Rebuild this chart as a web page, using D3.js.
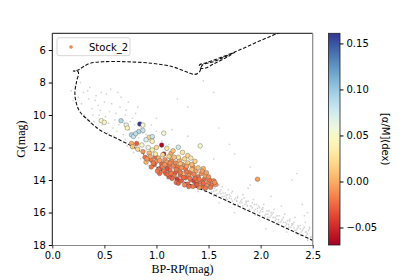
<!DOCTYPE html>
<html lang="en">
<head>
  <meta charset="UTF-8">
  <title>Stock_2 CMD</title>
  <style>
  body { margin: 0; background: #fff; }
  .tick text { font: 10px "DejaVu Sans", sans-serif; fill: #000; }
  </style>
</head>
<body>
<script src="https://d3js.org/d3.v7.min.js"></script>
<script>
// isochrone (BP-RP, G), from faint end up to the loop
var isoBP = [2.55, 2.492, 2.306, 2.052, 1.732, 1.541, 1.349, 1.158, 0.999, 0.871, 0.772, 0.648, 0.456, 0.361, 0.265, 0.227, 0.217, 0.233, 0.249, 0.201, 0.249, 0.297, 0.361, 0.485, 0.712, 0.964, 1.155, 1.286, 1.366, 1.413, 1.442, 1.538, 1.653, 1.758, 1.662, 1.547, 1.471, 1.423, 1.413, 1.471, 1.605, 1.796, 1.988, 2.179, 2.37];
var isoG  = [17.86, 17.69, 17.14, 16.39, 15.45, 14.88, 14.35, 13.80, 13.18, 12.36, 11.95, 11.54, 10.92, 10.41, 9.80, 9.18, 8.57, 7.95, 7.34, 7.29, 7.23, 7.03, 6.82, 6.72, 6.72, 6.82, 7.03, 7.34, 7.50, 7.34, 6.92, 6.74, 6.43, 6.12, 6.49, 6.86, 7.11, 7.11, 6.92, 6.80, 6.49, 6.00, 5.45, 4.95, 4.58];

// field stars (grey)
var bgBP = [0.30, 0.35, 0.42, 0.50, 0.38, 0.45, 0.55, 0.60, 0.28, 0.33, 0.52, 0.65, 0.70, 0.48, 0.58, 0.40, 0.75, 0.80, 0.62, 0.68, 0.85, 0.90, 0.44, 0.36, 0.56, 0.73, 0.95, 1.00, 0.25, 0.31, 0.66, 0.53,
  1.45, 1.55, 1.20, 1.70, 2.35, 1.75,
  0.70, 0.80, 0.88, 0.95, 1.05, 1.12, 1.20, 1.28, 1.35, 1.45, 1.50, 1.55, 1.60, 1.62, 1.65, 1.68, 1.70, 1.72, 1.75, 1.78, 1.80, 1.82, 1.85, 1.88, 1.90, 1.92, 1.95, 1.98, 2.00, 2.02, 2.05, 2.08, 2.10, 2.12, 2.15, 2.18, 2.20, 2.22, 2.25, 2.28, 2.30, 2.32, 2.35, 2.38, 2.40, 2.42, 2.45, 2.47, 2.48, 2.46, 2.40, 2.33, 2.27, 2.17, 2.07, 1.97, 1.87, 1.77, 1.67, 1.57, 1.63, 1.73, 1.83, 1.93, 2.03, 2.13, 2.23, 2.33, 2.43, 1.52, 1.88, 2.20, 1.40, 1.30, 1.20, 1.10, 1.00, 0.92, 0.85, 0.78, 0.72, 2.42, 2.25, 1.60, 1.75, 2.05,
  2.44, 2.38, 2.30, 2.24, 2.16, 2.10, 2.02, 1.94, 1.86, 1.78, 1.70, 1.64, 1.58, 2.49, 2.36, 2.28, 2.14, 1.99, 1.84, 1.69,
  1.41, 1.43, 1.46, 1.48, 1.51, 1.53, 1.56, 1.58, 1.61, 1.63, 1.66, 1.68, 1.71, 1.73, 1.76, 1.78, 1.81, 1.83, 1.86, 1.89, 1.91, 1.94, 1.96, 1.99, 2.01, 2.04, 2.06, 2.09, 2.11, 2.14, 2.16, 2.19, 2.21, 2.24, 2.26, 2.29, 2.31, 2.34, 2.36, 2.39, 2.41, 2.44, 2.46, 2.49, 2.47, 2.43, 2.37, 2.32, 2.27, 2.22, 2.17, 2.12, 2.07, 2.02, 1.97, 1.92, 1.87, 1.82, 1.77, 1.72, 1.67, 1.62, 1.57, 1.52, 1.47, 1.42, 1.37, 1.34, 1.31,
  1.55, 1.75, 1.95, 2.15, 2.35, 2.45, 1.85, 2.25,
  1.05, 1.15, 1.25, 1.35, 1.00, 1.10, 1.20, 1.30, 0.90, 1.45, 1.55, 1.60,
  0.18, 0.22, 0.20, 0.27, 0.34, 0.41, 0.47, 0.39, 0.46, 0.51, 0.57, 0.61, 0.64, 0.69, 0.74, 0.79, 0.83, 0.87, 0.59, 0.54, 0.43, 0.37, 0.71, 0.77, 0.93, 0.98, 1.05, 1.12, 0.63, 0.82, 1.00, 1.15, 1.30, 1.60, 1.30,
  2.30, 1.90, 2.40, 1.55, 1.90, 2.10, 2.45];
var bgG  = [8.6, 9.0, 8.8, 9.2, 9.6, 10.0, 9.8, 10.3, 9.3, 10.2, 8.7, 9.5, 10.0, 10.6, 10.8, 10.4, 10.4, 9.9, 11.0, 11.2, 10.8, 11.2, 9.4, 8.3, 8.4, 9.2, 10.6, 11.0, 8.9, 10.0, 8.9, 11.1,
  7.9, 8.6, 9.0, 11.8, 13.6, 12.4,
  11.5, 11.9, 12.3, 12.9, 13.3, 13.5, 13.8, 14.0, 14.2, 14.6, 14.5, 14.7, 14.8, 14.6, 15.0, 14.9, 15.1, 14.8, 15.2, 15.0, 15.4, 15.2, 15.5, 15.3, 15.6, 15.4, 15.8, 15.6, 15.9, 15.7, 16.1, 15.9, 16.2, 16.0, 16.4, 16.2, 16.5, 16.3, 16.7, 16.5, 16.8, 16.6, 17.0, 16.8, 17.1, 16.9, 17.3, 17.0, 17.5, 17.6, 17.4, 17.1, 16.9, 16.6, 16.3, 15.9, 15.6, 15.3, 15.1, 14.9, 14.4, 14.7, 14.9, 15.2, 15.5, 15.8, 16.1, 16.3, 16.6, 13.9, 14.5, 15.6, 14.7, 14.5, 14.2, 13.9, 13.5, 13.1, 12.7, 12.3, 11.9, 16.2, 17.2, 15.4, 16.0, 17.0,
  17.2, 17.0, 16.7, 16.6, 16.2, 16.0, 15.8, 15.5, 15.3, 15.1, 14.9, 14.8, 14.6, 17.7, 16.9, 16.4, 16.3, 15.7, 15.1, 14.6,
  14.2, 14.45, 14.1, 14.6, 14.4, 14.75, 14.5, 14.85, 14.7, 15.0, 14.8, 15.2, 15.0, 15.3, 15.1, 15.5, 15.3, 15.6, 15.4, 15.8, 15.6, 15.9, 15.5, 16.0, 15.8, 16.2, 15.9, 16.3, 16.1, 16.5, 16.2, 16.6, 16.4, 16.8, 16.5, 16.9, 16.7, 17.1, 16.8, 17.2, 17.0, 17.4, 17.1, 17.5, 16.9, 17.2, 17.3, 16.95, 16.75, 16.6, 16.45, 16.3, 16.1, 15.95, 15.75, 15.7, 15.55, 15.4, 15.25, 15.15, 14.95, 14.85, 14.65, 14.55, 14.35, 14.3, 14.1, 14.35, 14.2,
  15.0, 15.55, 16.15, 16.7, 17.3, 17.7, 15.85, 17.0,
  12.9, 13.2, 13.5, 13.8, 12.6, 13.0, 13.3, 13.6, 12.2, 13.9, 14.2, 14.3,
  8.5, 8.2, 9.1, 8.0, 8.5, 9.1, 8.6, 10.0, 9.7, 10.1, 9.3, 9.9, 10.6, 10.5, 10.9, 10.6, 11.4, 11.1, 11.3, 10.5, 10.8, 10.5, 9.7, 10.2, 11.6, 11.4, 11.6, 11.8, 8.6, 9.5, 10.2, 10.9, 9.5, 10.8, 11.3,
  14.0, 13.2, 15.5, 12.7, 14.3, 15.0, 16.0];

// Stock_2 members
var starBP = [0.47, 0.50, 0.66, 0.71, 0.72, 0.84, 0.87, 0.83, 0.87, 0.76, 0.78, 0.80, 1.07, 0.93, 0.96, 0.90, 0.96, 1.05, 0.76, 0.81, 0.86, 1.21, 1.42, 1.07, 1.14, 0.87, 0.96, 0.89, 0.99, 1.00, 1.10, 1.16, 0.92, 0.82, 1.25, 1.30, 0.77,
  0.95, 1.00, 1.02, 1.05, 1.08, 1.10, 1.12, 1.04, 1.15, 1.18, 1.20, 1.22, 1.13, 1.25, 1.28, 1.18, 1.30, 1.32, 1.35, 1.23, 1.38, 1.40, 1.28, 1.33, 1.43, 1.46, 1.50, 1.38, 1.48, 1.53, 1.57, 1.44, 1.36, 1.22, 1.26, 1.10, 1.16, 1.07, 1.31, 1.42, 1.34, 1.20, 1.47, 1.51, 1.40, 1.27, 1.12, 0.98, 1.02, 1.24, 1.17, 1.30, 1.35, 1.45, 1.37, 1.33, 1.21, 1.06, 0.93, 1.15, 1.09, 1.97, 1.55, 1.41, 1.29, 1.14, 0.99, 1.23, 1.48,
  1.03, 0.95, 1.12, 0.90, 1.19, 1.27, 1.39,
  1.01, 1.06, 1.11, 1.19, 1.24, 1.29, 1.36, 1.41, 1.45, 1.52, 1.56, 1.39, 1.32, 1.26, 1.14, 1.08, 0.97, 0.94, 1.17, 1.34, 1.44, 1.50, 1.21, 1.31, 1.47, 1.03, 1.13, 1.23, 1.37, 0.91];
var starG  = [10.35, 10.45, 10.35, 10.62, 10.80, 10.55, 10.62, 11.02, 10.95, 11.22, 11.32, 11.15, 11.12, 11.37, 11.33, 11.52, 11.62, 11.85, 11.75, 11.75, 11.85, 11.98, 11.90, 12.40, 12.35, 12.25, 12.15, 12.60, 12.58, 12.00, 12.05, 12.20, 12.00, 12.10, 12.30, 12.50, 11.95,
  12.75, 12.85, 12.65, 13.00, 12.75, 12.90, 13.10, 13.25, 12.70, 12.95, 13.20, 12.80, 13.40, 13.05, 13.30, 13.55, 12.95, 13.55, 13.20, 13.70, 13.45, 13.80, 13.85, 14.00, 13.60, 13.95, 14.15, 14.20, 14.35, 14.30, 14.28, 14.40, 14.05, 13.45, 13.60, 13.30, 13.15, 13.45, 13.70, 14.10, 13.35, 13.95, 13.75, 14.00, 13.25, 12.70, 12.55, 13.05, 13.35, 14.05, 13.75, 14.25, 14.40, 13.30, 12.85, 12.65, 12.60, 12.45, 12.35, 13.90, 13.60, 13.95, 14.05, 14.45, 13.15, 12.85, 12.40, 13.00, 13.55,
  13.60, 13.20, 13.80, 12.90, 14.15, 14.30, 14.00,
  13.45, 13.15, 13.65, 13.35, 13.25, 13.50, 13.65, 13.95, 14.20, 14.45, 14.15, 14.30, 13.90, 13.85, 13.60, 13.05, 12.95, 12.55, 12.60, 13.05, 13.45, 13.80, 14.20, 14.40, 14.50, 12.80, 12.95, 13.55, 13.90, 12.70];
var starAlpha = [0.05, 0.045, 0.09, 0.06, 0.04, 0.16, 0.05, 0.09, 0.08, 0.09, 0.08, 0.085, 0.055, 0.02, 0.08, 0.07, 0.04, -0.065, 0.0, -0.03, 0.05, 0.075, 0.05, -0.06, 0.0, -0.01, 0.035, -0.02, -0.025, 0.02, 0.03, 0.01, 0.06, 0.02, 0.03, 0.02, 0.01,
  -0.018, -0.01, 0.005, -0.025, -0.01, -0.002, -0.02, -0.03, 0.012, -0.015, -0.02, 0.0, -0.022, -0.01, -0.02, -0.03, 0.015, -0.02, -0.01, -0.025, -0.002, -0.02, -0.03, -0.018, -0.01, -0.025, -0.015, -0.03, -0.01, -0.02, -0.01, -0.025, -0.04, -0.01, 0.005, -0.035, -0.015, -0.02, -0.015, -0.02, 0.008, -0.045, -0.005, -0.02, 0.012, 0.02, 0.015, -0.03, -0.02, -0.03, -0.02, -0.025, -0.02, 0.005, 0.02, 0.03, 0.025, 0.02, 0.005, -0.025, -0.03, -0.005, -0.015, -0.01, -0.005, -0.01, 0.03, 0.008, -0.005,
  -0.025, -0.02, -0.03, 0.005, -0.02, -0.015, -0.01,
  -0.02, -0.015, -0.025, -0.02, -0.01, -0.02, -0.015, -0.02, -0.025, -0.02, -0.01, -0.03, -0.02, -0.025, -0.02, -0.01, -0.02, 0.0, 0.01, 0.005, -0.005, -0.01, -0.03, -0.025, -0.02, -0.005, -0.015, -0.02, -0.025, -0.01];

var xTicks = [0.0, 0.5, 1.0, 1.5, 2.0, 2.5];
var yTicks = [6, 8, 10, 12, 14, 16, 18];
var cTicks = [-0.05, 0.00, 0.05, 0.10, 0.15];

var width = 420, height = 280;
var mLeft = 52.3, mRight = 312.7, mTop = 33.3, mBottom = 245;

var svg = d3.select("body").append("svg").attr("width", width).attr("height", height);

var xScale = d3.scaleLinear().domain([0, 2.5]).range([mLeft, mRight]);
var yScale = d3.scaleLinear().domain([18, 4.97]).range([mBottom, mTop]);
var cScale = d3.scaleLinear().domain([-0.069, 0.161]).range([mBottom, mTop]);
var color = d3.scaleSequential(d3.interpolateRdYlBu).domain([-0.069, 0.161]);

svg.append("clipPath").attr("id", "clip")
  .append("rect").attr("x", mLeft).attr("y", mTop).attr("width", mRight - mLeft).attr("height", mBottom - mTop);

var plot = svg.append("g").attr("clip-path", "url(#clip)");

// grey field stars
plot.selectAll(".bg").data(d3.range(bgBP.length)).enter().append("circle")
  .attr("cx", function(i){ return xScale(bgBP[i]); })
  .attr("cy", function(i){ return yScale(bgG[i]); })
  .attr("r", 0.85)
  .attr("fill", "#c8c8c8")
  .attr("opacity", 0.8);

// isochrone
var line = d3.line()
  .x(function(i){ return xScale(isoBP[i]); })
  .y(function(i){ return yScale(isoG[i]); })
  .curve(d3.curveCatmullRom);

plot.append("path")
  .datum(d3.range(isoBP.length))
  .attr("fill", "none")
  .attr("stroke", "#111")
  .attr("stroke-width", 1.1)
  .attr("stroke-dasharray", "3.5,1.8")
  .attr("d", line);

// members
plot.selectAll(".star").data(d3.range(starBP.length)).enter().append("circle")
  .attr("cx", function(i){ return xScale(starBP[i]); })
  .attr("cy", function(i){ return yScale(starG[i]); })
  .attr("r", 2.3)
  .attr("fill", function(i){ return color(starAlpha[i]); })
  .attr("stroke", "#555")
  .attr("stroke-width", 0.4);

// axes
var axisx = d3.axisBottom(xScale).tickValues(xTicks).tickFormat(d3.format(".1f")).tickSize(3.5).tickSizeOuter(0);
var axisy = d3.axisLeft(yScale).tickValues(yTicks).tickFormat(d3.format("d")).tickSize(3.5).tickSizeOuter(0);

var gx = svg.append("g").attr("transform", "translate(0," + mBottom + ")").call(axisx);
var gy = svg.append("g").attr("transform", "translate(" + mLeft + ",0)").call(axisy);
gx.select(".domain").attr("stroke", "#888").attr("stroke-width", 1.2);
gx.selectAll(".tick line").attr("stroke", "#333");
gy.select(".domain").remove();

// frame: top and left dark, right grey
svg.append("line").attr("x1", mLeft).attr("x2", mRight).attr("y1", mTop).attr("y2", mTop).attr("stroke", "#111").attr("stroke-width", 1);
svg.append("line").attr("x1", mLeft).attr("x2", mLeft).attr("y1", mTop).attr("y2", mBottom).attr("stroke", "#111").attr("stroke-width", 1);
svg.append("line").attr("x1", mRight).attr("x2", mRight).attr("y1", mTop).attr("y2", mBottom).attr("stroke", "#888").attr("stroke-width", 1.2);

svg.append("text")
  .attr("x", (mLeft + mRight) / 2).attr("y", 273)
  .attr("text-anchor", "middle")
  .style("font", "12px 'Liberation Serif', serif")
  .text("BP-RP(mag)");

svg.append("text")
  .attr("transform", "translate(25," + ((mTop + mBottom) / 2) + ") rotate(-90)")
  .attr("text-anchor", "middle")
  .style("font", "12px 'Liberation Serif', serif")
  .text("G(mag)");

// legend
var legend = svg.append("g");
legend.append("rect")
  .attr("x", 57).attr("y", 37.7).attr("width", 73).attr("height", 18).attr("rx", 2)
  .attr("fill", "#fff").attr("stroke", "#ccc").attr("stroke-width", 0.8);
legend.append("circle").attr("cx", 71).attr("cy", 47).attr("r", 1.8).attr("fill", color(-0.015));
legend.append("text").attr("x", 89).attr("y", 50.5)
  .style("font", "10px 'DejaVu Sans', sans-serif").text("Stock_2");

// colorbar
var cbx = 328.5, cbw = 11.5;
var grad = svg.append("defs").append("linearGradient").attr("id", "cbar")
  .attr("x1", 0).attr("y1", 1).attr("x2", 0).attr("y2", 0);
grad.selectAll("stop").data(d3.range(0, 1.0001, 0.05)).enter().append("stop")
  .attr("offset", function(t){ return t; })
  .attr("stop-color", function(t){ return d3.interpolateRdYlBu(t); });

svg.append("rect").attr("x", cbx).attr("y", mTop).attr("width", cbw).attr("height", mBottom - mTop)
  .attr("fill", "url(#cbar)").attr("stroke", "#222").attr("stroke-width", 0.8);

var axisc = d3.axisRight(cScale).tickValues(cTicks).tickFormat(d3.format(".2f")).tickSize(3.5).tickSizeOuter(0);
var gc = svg.append("g").attr("transform", "translate(" + (cbx + cbw) + ",0)").call(axisc);
gc.select(".domain").remove();

svg.append("text")
  .attr("transform", "translate(382," + ((mTop + mBottom) / 2) + ") rotate(90)")
  .attr("text-anchor", "middle")
  .style("font", "10px 'DejaVu Sans', sans-serif")
  .text("[α/M](dex)");
</script>
</body>
</html>
